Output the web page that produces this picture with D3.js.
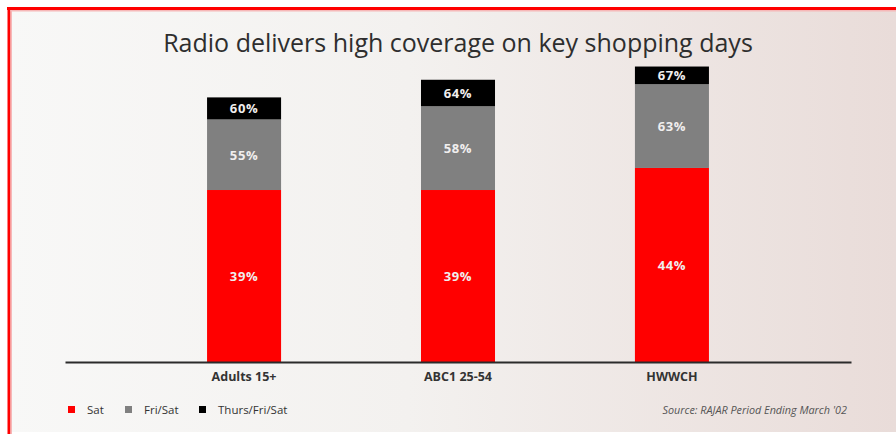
<!DOCTYPE html>
<html>
<head>
<meta charset="utf-8">
<script src="https://cdn.jsdelivr.net/npm/d3@7"></script>
<style>
  html, body { margin: 0; padding: 0; background: #ffffff; }
  svg { display: block; }
</style>
</head>
<body>
<script>
// Audience groups along the x axis
const categories = ["Adults 15+", "ABC1 25-54", "HWWCH"];
// Cumulative reach (%) for each day window
const satValues = [39, 39, 44];
const friSatValues = [55, 58, 63];
const thursFriSatValues = [60, 64, 67];
// Legend entries
const seriesNames = ["Sat", "Fri/Sat", "Thurs/Fri/Sat"];
const seriesColors = ["#ff0000", "#808080", "#000000"];
const titleText = "Radio delivers high coverage on key shopping days";
const sourceText = "Source: RAJAR Period Ending March '02";

const W = 896, H = 434;
const svg = d3.select("body").append("svg").attr("width", W).attr("height", H);

// Background panel with soft white-to-blush gradient
const defs = svg.append("defs");
const grad = defs.append("linearGradient").attr("id", "bg").attr("x1", "0").attr("x2", "1").attr("y1", "0").attr("y2", "0");
grad.append("stop").attr("offset", "0").attr("stop-color", "#f8f8f7");
grad.append("stop").attr("offset", "0.45").attr("stop-color", "#f3f1ef");
grad.append("stop").attr("offset", "1").attr("stop-color", "#e9dcd9");
svg.append("rect").attr("x", 0).attr("y", 0).attr("width", W).attr("height", H).attr("fill", "#ffffff");
svg.append("rect").attr("x", 8).attr("y", 8).attr("width", W - 8).attr("height", 424).attr("fill", "url(#bg)");

// Red frame on top and left
svg.append("rect").attr("x", 7).attr("y", 7).attr("width", W - 7).attr("height", 3).attr("fill", "#ff0000");
svg.append("rect").attr("x", 7.5).attr("y", 7).attr("width", 3).attr("height", H - 7).attr("fill", "#ff0000");
svg.append("rect").attr("x", 10.5).attr("y", 10).attr("width", W - 10).attr("height", 1.5).attr("fill", "#f6b8b8");
svg.append("rect").attr("x", 10.5).attr("y", 10).attr("width", 1.5).attr("height", H - 10).attr("fill", "#f6b8b8");

const FONT = "'Open Sans', 'Noto Sans', sans-serif";

// Title
svg.append("text")
  .attr("x", 458).attr("y", 52)
  .attr("text-anchor", "middle")
  .attr("font-family", FONT)
  .attr("font-size", 25)
  .attr("fill", "#2e2e2e")
  .text(titleText);

// Scales
const x = d3.scaleBand().domain(categories).range([65, 851]).paddingInner(0.654).paddingOuter(0.664);
const y = d3.scaleLinear().domain([0, 100]).range([362, 362 - 441]);

// Stacked segments built from the cumulative values
const rows = categories.map((c, i) => ({
  cat: c,
  segs: [
    { lo: 0, hi: satValues[i], color: seriesColors[0] },
    { lo: satValues[i], hi: friSatValues[i], color: seriesColors[1] },
    { lo: friSatValues[i], hi: thursFriSatValues[i], color: seriesColors[2] }
  ]
}));

const g = svg.append("g");
const groups = g.selectAll("g.bar").data(rows).enter().append("g").attr("class", "bar");
groups.selectAll("rect").data(d => d.segs.map(s => Object.assign({ cat: d.cat }, s))).enter()
  .append("rect")
  .attr("x", d => x(d.cat))
  .attr("width", x.bandwidth())
  .attr("y", d => y(d.hi))
  .attr("height", d => y(d.lo) - y(d.hi))
  .attr("fill", d => d.color);

groups.selectAll("text").data(d => d.segs.map(s => Object.assign({ cat: d.cat }, s))).enter()
  .append("text")
  .attr("x", d => x(d.cat) + x.bandwidth() / 2)
  .attr("y", d => (y(d.lo) + y(d.hi)) / 2 + 5)
  .attr("text-anchor", "middle")
  .attr("font-family", FONT)
  .attr("font-weight", "bold")
  .attr("font-size", 13)
  .attr("letter-spacing", 0.6)
  .attr("fill", "#f0eeee")
  .text(d => d.hi + "%");

// Category axis
const xAxis = d3.axisBottom(x).tickSize(0).tickPadding(10);
const axisG = svg.append("g").attr("transform", "translate(0,362)").call(xAxis);
axisG.select(".domain").attr("stroke", "#2b2b2b").attr("stroke-width", 2);
axisG.selectAll(".tick text")
  .attr("font-family", FONT)
  .attr("font-weight", "bold")
  .attr("font-size", 12.5)
  .attr("fill", "#333333");

// Legend
const legendX = [68, 125, 199];
const legend = svg.append("g");
seriesNames.forEach((name, i) => {
  legend.append("rect").attr("x", legendX[i]).attr("y", 406).attr("width", 7).attr("height", 7).attr("fill", seriesColors[i]);
  legend.append("text")
    .attr("x", legendX[i] + 19).attr("y", 414)
    .attr("font-family", FONT)
    .attr("font-size", 11.5)
    .attr("fill", "#333333")
    .text(name);
});

// Source note
svg.append("text")
  .attr("x", 847).attr("y", 414)
  .attr("text-anchor", "end")
  .attr("font-family", FONT)
  .attr("font-style", "italic")
  .attr("font-size", 10.8)
  .attr("fill", "#555555")
  .text(sourceText);
</script>
</body>
</html>
